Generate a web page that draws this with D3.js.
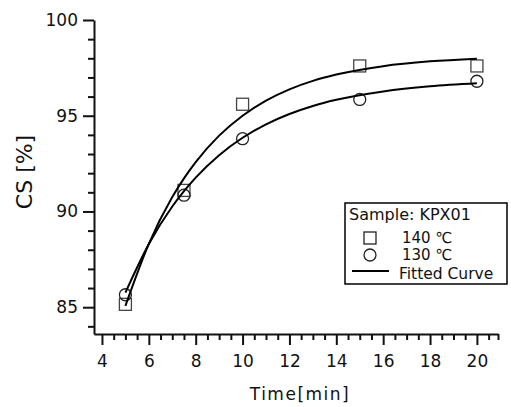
<!DOCTYPE html>
<html>
<head>
<meta charset="utf-8">
<script src="https://cdn.jsdelivr.net/npm/d3@7"></script>
<style>
  body { margin: 0; background: #fff; }
  text { font-family: "DejaVu Sans", "Noto Sans CJK KR", sans-serif; fill: #111; }
</style>
</head>
<body>
<div id="chart"></div>
<script>
// Measured points
const times = [5, 7.5, 10, 15, 20];
const cs140 = [85.15, 91.1, 95.6, 97.6, 97.6];
const cs130 = [85.65, 90.85, 93.8, 95.85, 96.8];

// Fitted curves
const fitTimes = [5, 6, 7, 7.5, 8, 9, 10, 11, 12, 13, 14, 16, 18, 20];
const fit140 = [85.07, 88.31, 90.75, 91.73, 92.58, 93.96, 95.0, 95.79, 96.38, 96.82, 97.15, 97.59, 97.84, 97.98];
const fit130 = [85.76, 88.3, 90.26, 91.06, 91.77, 92.94, 93.85, 94.55, 95.09, 95.51, 95.83, 96.27, 96.54, 96.7];

// Axis ticks
const xMajor = [4, 6, 8, 10, 12, 14, 16, 18, 20];
const yMajor = [85, 90, 95, 100];

const legendTitle = 'Sample: KPX01';
const legendLabels = ['140 \u2103', '130 \u2103', 'Fitted Curve'];

const width = 511, height = 407;

const svg = d3.select('#chart')
    .append('svg')
    .attr('width', width)
    .attr('height', height);

// Scales
const x = d3.scaleLinear().domain([3.66, 20.9]).range([94, 498]);
const y = d3.scaleLinear().domain([83.6, 100]).range([334, 20]);

const xMinor = d3.range(4.5, 20.9, 0.5).filter(v => !xMajor.includes(v)).concat([20.9]);
const yMinor = d3.range(84, 100, 1).filter(v => !yMajor.includes(v));

// X axis
svg.append('g')
    .attr('transform', 'translate(0,334)')
    .call(d3.axisBottom(x).tickValues(xMajor).tickSize(11).tickSizeOuter(0).tickPadding(10));
svg.append('g')
    .attr('transform', 'translate(0,334)')
    .call(d3.axisBottom(x).tickValues(xMinor).tickSize(6).tickFormat(''))
    .call(g => g.select('.domain').remove());

// Y axis
svg.append('g')
    .attr('transform', 'translate(94,0)')
    .call(d3.axisLeft(y).tickValues(yMajor).tickSize(11).tickSizeOuter(0).tickPadding(5));
svg.append('g')
    .attr('transform', 'translate(94,0)')
    .call(d3.axisLeft(y).tickValues(yMinor).tickSize(6).tickFormat(''))
    .call(g => g.select('.domain').remove());

svg.selectAll('.domain, .tick line')
    .attr('stroke', '#111')
    .attr('stroke-width', 2);
svg.selectAll('.tick text')
    .style('font-size', '17px')
    .style('font-family', '"DejaVu Sans", sans-serif')
    .attr('fill', '#222');

// Axis titles
svg.append('text')
    .attr('x', 300)
    .attr('y', 400)
    .attr('text-anchor', 'middle')
    .style('font-size', '17px')
    .style('letter-spacing', '1.5px')
    .text('Time[min]');

svg.append('text')
    .attr('transform', 'translate(32,172) rotate(-90)')
    .attr('text-anchor', 'middle')
    .style('font-size', '22px')
    .text('CS [%]');

// Markers
const pts140 = times.map((t, i) => ({ t, v: cs140[i] }));
const pts130 = times.map((t, i) => ({ t, v: cs130[i] }));

svg.selectAll('.sq')
    .data(pts140)
    .enter()
    .append('rect')
    .attr('class', 'sq')
    .attr('x', d => x(d.t) - 6)
    .attr('y', d => y(d.v) - 6)
    .attr('width', 12)
    .attr('height', 12)
    .attr('fill', 'none')
    .attr('stroke', '#444')
    .attr('stroke-width', 1.3);

svg.selectAll('.ci')
    .data(pts130)
    .enter()
    .append('circle')
    .attr('class', 'ci')
    .attr('cx', d => x(d.t))
    .attr('cy', d => y(d.v))
    .attr('r', 6)
    .attr('fill', 'none')
    .attr('stroke', '#222')
    .attr('stroke-width', 1.3);

// Fitted curves
const line = d3.line()
    .x(d => x(d[0]))
    .y(d => y(d[1]))
    .curve(d3.curveMonotoneX);

[fit140, fit130].forEach(vals => {
    svg.append('path')
        .datum(fitTimes.map((t, i) => [t, vals[i]]))
        .attr('d', line)
        .attr('fill', 'none')
        .attr('stroke', '#000')
        .attr('stroke-width', 2);
});

// Legend
const legend = svg.append('g');
legend.append('rect')
    .attr('x', 345)
    .attr('y', 203)
    .attr('width', 162)
    .attr('height', 81)
    .attr('fill', '#fff')
    .attr('stroke', '#000')
    .attr('stroke-width', 1.5);

legend.append('text')
    .attr('x', 349)
    .attr('y', 220)
    .style('font-size', '16px')
    .text(legendTitle);

legend.append('rect')
    .attr('x', 364).attr('y', 232)
    .attr('width', 12).attr('height', 12)
    .attr('fill', 'none').attr('stroke', '#222').attr('stroke-width', 1.3);
legend.append('circle')
    .attr('cx', 370).attr('cy', 255).attr('r', 6)
    .attr('fill', 'none').attr('stroke', '#222').attr('stroke-width', 1.3);
legend.append('line')
    .attr('x1', 352).attr('x2', 389)
    .attr('y1', 271).attr('y2', 271)
    .attr('stroke', '#000').attr('stroke-width', 2);

const legendY = [243, 260, 278.5];
legendLabels.forEach((label, i) => {
    legend.append('text')
        .attr('x', i < 2 ? 402 : 399)
        .attr('y', legendY[i])
        .style('font-size', i < 2 ? '15px' : '15.5px')
        .style('font-family', '"DejaVu Sans", sans-serif')
        .text(label);
});
</script>
</body>
</html>
